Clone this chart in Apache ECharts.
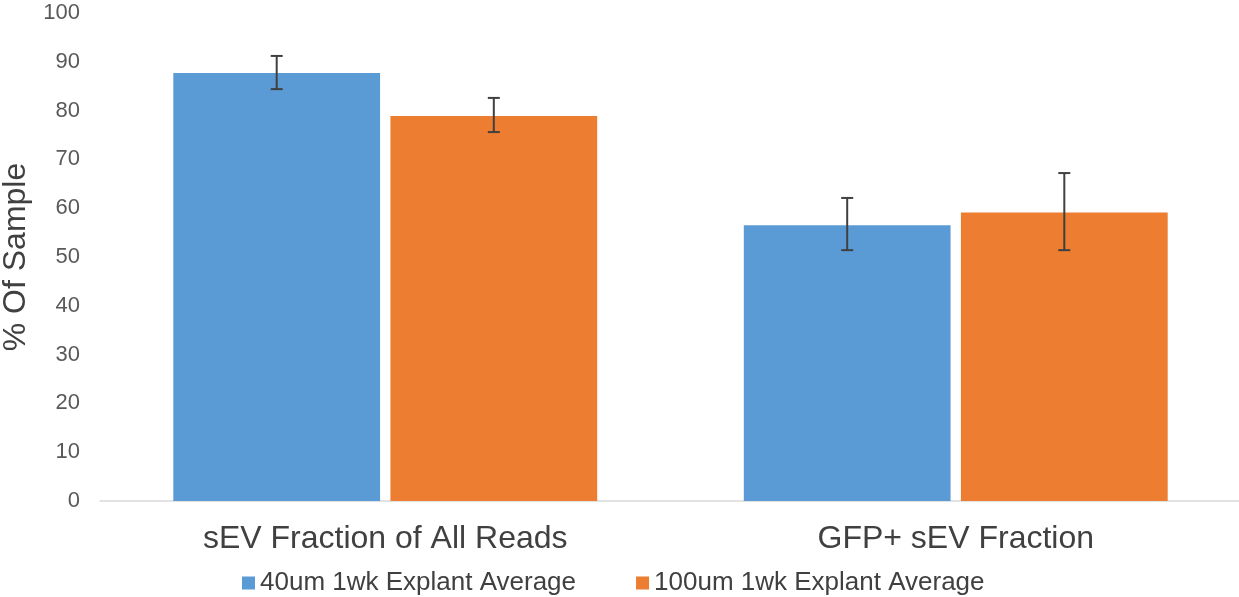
<!DOCTYPE html>
<html>
<head>
<meta charset="utf-8">
<script src="https://cdn.jsdelivr.net/npm/echarts@6/dist/echarts.min.js"></script>
<style>html,body{margin:0;padding:0;background:#fff;}#c{width:1239px;height:597px;}</style>
</head>
<body>
<div id="c"></div>
<script>
var categories = ['sEV Fraction of All Reads', 'GFP+ sEV Fraction'];
var seriesNames = ['40um 1wk Explant Average', '100um 1wk Explant Average'];
var avg40 = [87.7, 56.5];
var avg100 = [78.9, 59.1];
var err40Low = [84.4, 51.4];
var err40High = [91.2, 62.1];
var err100Low = [75.6, 51.4];
var err100High = [82.6, 67.2];
var yTicks = [0, 10, 20, 30, 40, 50, 60, 70, 80, 90, 100];

var CAT_GAP = 0.257, BAR_GAP = 0.05;
var colors = ['#5b9bd5', '#ed7d31'];

function errData(lo, hi) {
  return categories.map(function (c, i) { return [i, lo[i], hi[i]]; });
}
function makeErr(seriesIdx) {
  return function (params, api) {
    var ci = api.value(0);
    var band = api.size([1, 0])[0];
    var bw = band * (1 - CAT_GAP) / (2 + BAR_GAP);
    var off = (bw * (1 + BAR_GAP)) / 2 * (seriesIdx === 0 ? -1 : 1);
    var pLo = api.coord([ci, api.value(1)]);
    var pHi = api.coord([ci, api.value(2)]);
    var x = pLo[0] + off;
    var cap = 6;
    var st = { stroke: '#404040', lineWidth: 2 };
    return {
      type: 'group',
      children: [
        { type: 'line', shape: { x1: x, y1: pLo[1], x2: x, y2: pHi[1] }, style: st },
        { type: 'line', shape: { x1: x - cap, y1: pLo[1], x2: x + cap, y2: pLo[1] }, style: st },
        { type: 'line', shape: { x1: x - cap, y1: pHi[1], x2: x + cap, y2: pHi[1] }, style: st }
      ]
    };
  };
}

var chart = echarts.init(document.getElementById('c'));
chart.setOption({
  animation: false,
  textStyle: { fontFamily: 'Liberation Sans, Arial, sans-serif' },
  grid: { left: 100, right: -2, top: 13, bottom: 96, containLabel: false, outerBoundsMode: 'none' },
  legend: {
    bottom: 1,
    left: 242,
    padding: 0,
    itemWidth: 13,
    itemHeight: 13,
    itemGap: 60,
    icon: 'rect',
    textStyle: { fontSize: 26, color: '#404040' },
    data: seriesNames
  },
  xAxis: {
    type: 'category',
    data: categories,
    axisLine: { show: true, lineStyle: { color: '#d9d9d9', width: 1.5 } },
    axisTick: { show: false },
    axisLabel: { fontSize: 32, color: '#404040', margin: 22 }
  },
  yAxis: {
    type: 'value',
    min: yTicks[0],
    max: yTicks[yTicks.length - 1],
    interval: 10,
    name: '% Of Sample',
    nameLocation: 'middle',
    nameGap: 67,
    nameTextStyle: { fontSize: 32, color: '#404040' },
    axisLine: { show: false },
    axisTick: { show: false },
    splitLine: { show: false },
    axisLabel: { fontSize: 22, color: '#595959', margin: 20 }
  },
  series: [
    {
      name: seriesNames[0], type: 'bar', data: avg40,
      itemStyle: { color: colors[0] },
      barGap: (BAR_GAP * 100) + '%', barCategoryGap: (CAT_GAP * 100) + '%'
    },
    {
      name: seriesNames[1], type: 'bar', data: avg100,
      itemStyle: { color: colors[1] },
      barGap: (BAR_GAP * 100) + '%', barCategoryGap: (CAT_GAP * 100) + '%'
    },
    {
      type: 'custom', renderItem: makeErr(0), data: errData(err40Low, err40High),
      encode: { x: 0, y: [1, 2] }, z: 10, silent: true
    },
    {
      type: 'custom', renderItem: makeErr(1), data: errData(err100Low, err100High),
      encode: { x: 0, y: [1, 2] }, z: 10, silent: true
    }
  ]
});
</script>
</body>
</html>
